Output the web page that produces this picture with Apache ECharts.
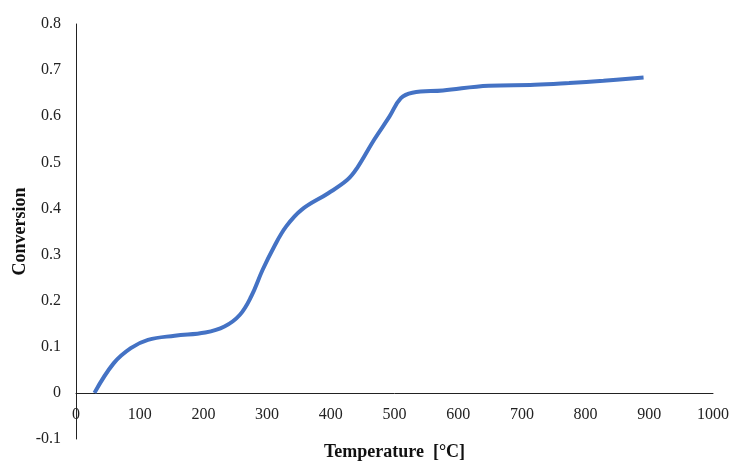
<!DOCTYPE html>
<html>
<head>
<meta charset="utf-8">
<script src="https://cdn.jsdelivr.net/npm/echarts@6/dist/echarts.min.js"></script>
<style>
    html, body { margin: 0; padding: 0; background: #fff; }
    #chart { width: 729px; height: 462px; }
</style>
</head>
<body>
<div id="chart"></div>
<script>
// temperature [°C]
const temps = [29, 59, 86, 113, 155, 203, 233, 257, 275, 293, 311, 330, 354, 396, 426, 441, 468, 492, 510, 528, 576, 648, 720, 774, 828, 891]
// conversion
const conversion = [0, 0.064, 0.097, 0.115, 0.124, 0.131, 0.144, 0.169, 0.209, 0.267, 0.317, 0.361, 0.397, 0.433, 0.462, 0.487, 0.549, 0.599, 0.639, 0.651, 0.656, 0.666, 0.668, 0.672, 0.677, 0.684]

const serif = 'Liberation Serif'

// grid spans -0.1 .. 0.8, x axis drawn at 0
const gridTop = 24
const gridBottom = 23
const plotHeight = 462 - gridTop - gridBottom
const zeroOffset = -plotHeight / 9

const chart = echarts.init(document.getElementById('chart'))
chart.setOption({
    animation: false,
    grid: { left: 76, right: 16, top: gridTop, bottom: gridBottom, outerBoundsMode: 'none' },
    xAxis: {
        type: 'value',
        min: 0,
        max: 1000,
        interval: 100,
        offset: zeroOffset,
        name: 'Temperature  [°C]',
        nameLocation: 'middle',
        nameGap: 50,
        nameTextStyle: { fontFamily: serif, fontSize: 18, fontWeight: 'bold', color: '#111' },
        axisLine: { onZero: false, lineStyle: { color: '#222', width: 1 } },
        axisTick: { show: false },
        splitLine: { show: false },
        axisLabel: {
            fontFamily: serif,
            fontSize: 16,
            color: '#222',
            margin: 14,
            formatter: (v) => String(v),
        },
    },
    yAxis: {
        type: 'value',
        min: -0.1,
        max: 0.8,
        interval: 0.1,
        name: 'Conversion',
        nameLocation: 'middle',
        nameGap: 47,
        nameMoveOverlap: false,
        nameTextStyle: { fontFamily: serif, fontSize: 18, fontWeight: 'bold', color: '#111' },
        axisLine: { show: true, onZero: false, lineStyle: { color: '#222', width: 1 } },
        axisTick: { show: false },
        splitLine: { show: false },
        axisLabel: {
            fontFamily: serif,
            fontSize: 16,
            color: '#222',
            margin: 15,
            formatter: (v) => String(+v.toFixed(1)),
        },
    },
    series: [
        {
            type: 'line',
            data: temps.map((t, i) => [t, conversion[i]]),
            smooth: 0.4,
            showSymbol: false,
            lineStyle: { color: '#4472C4', width: 4 },
        },
    ],
})
</script>
</body>
</html>
